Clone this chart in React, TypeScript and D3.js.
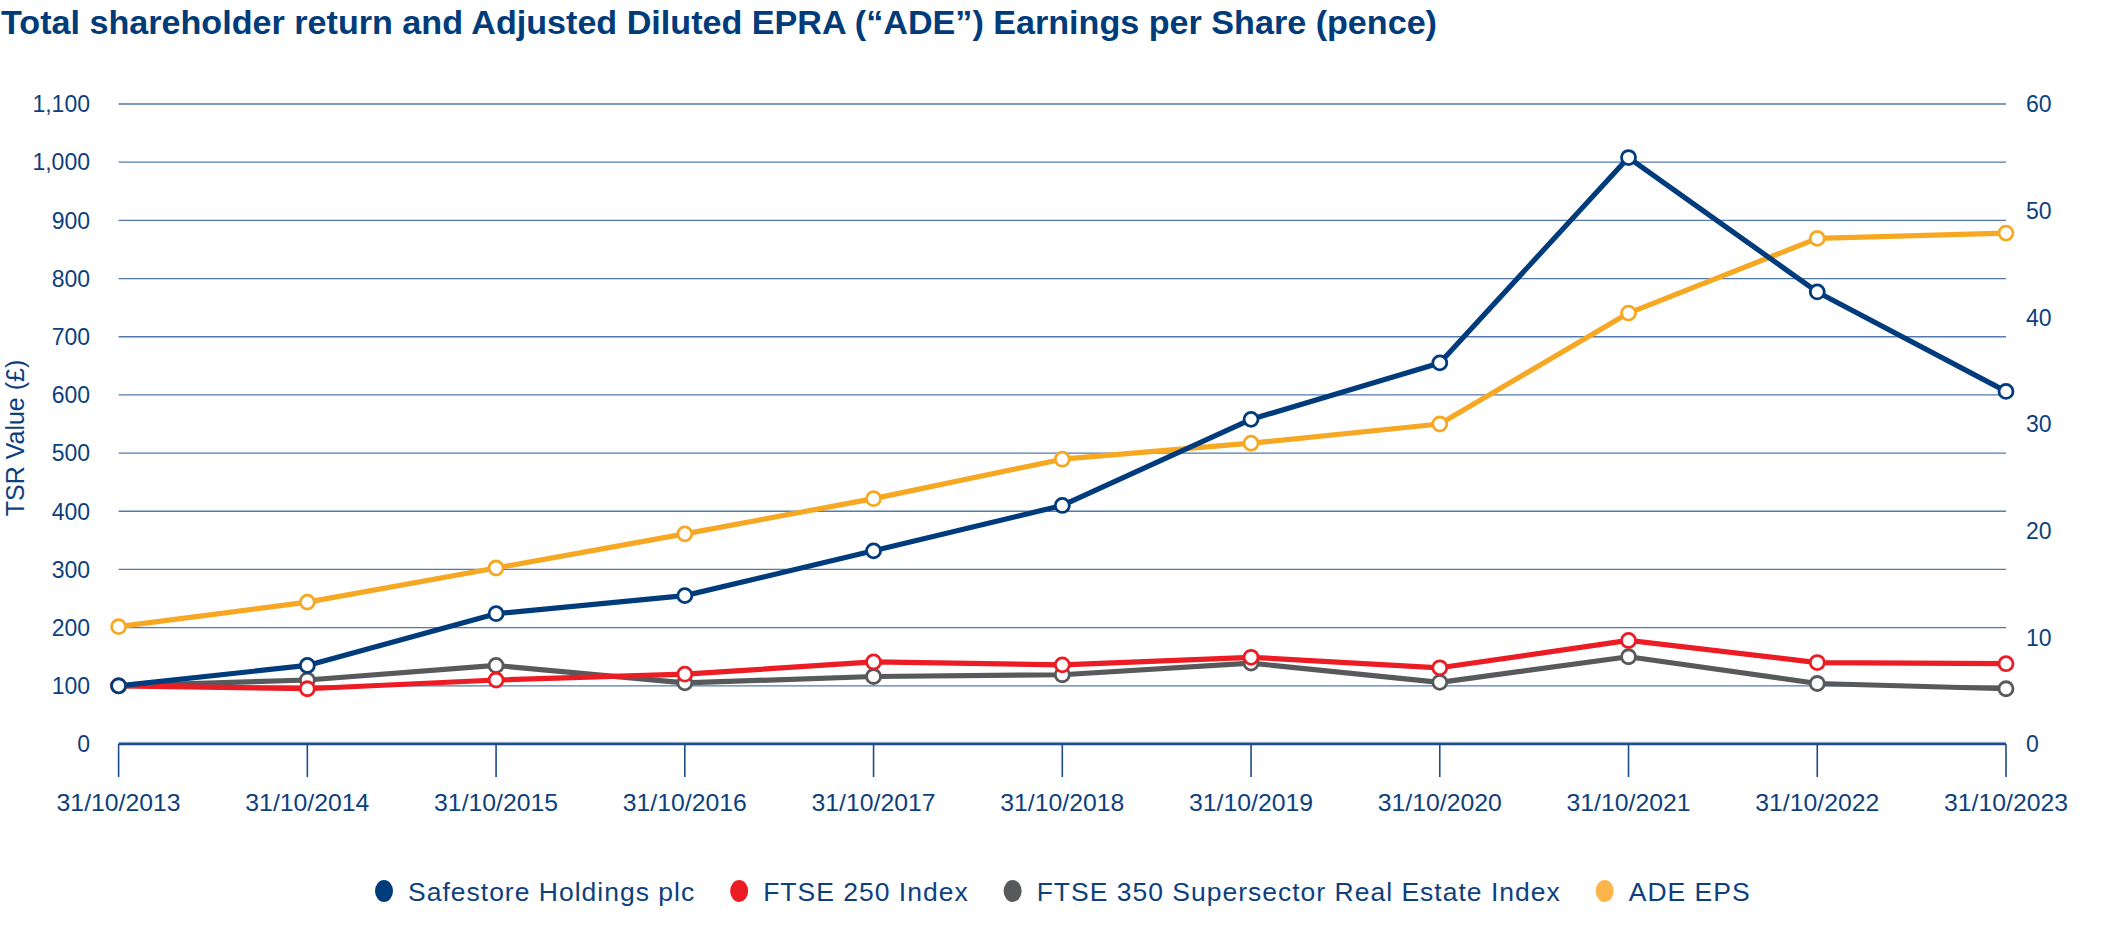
import React, { useEffect, useRef } from "react";
import * as d3 from "d3";

const years = ["31/10/2013","31/10/2014","31/10/2015","31/10/2016","31/10/2017","31/10/2018","31/10/2019","31/10/2020","31/10/2021","31/10/2022","31/10/2023"];
const safestore = [100, 135, 224, 255, 332, 410, 558, 655, 1008, 777, 606];
const ftse250 = [100, 95, 110, 120, 141, 136, 149, 131, 178, 140, 138];
const ftse350re = [100, 110, 135, 105, 116, 119, 139, 106, 150, 104, 95];
const adeEps = [11.0, 13.3, 16.5, 19.7, 23.0, 26.7, 28.2, 30.0, 40.4, 47.4, 47.9];
const leftTicks = [0,100,200,300,400,500,600,700,800,900,1000,1100];
const rightTicks = [0,10,20,30,40,50,60];
const title = "Total shareholder return and Adjusted Diluted EPRA (\u201cADE\u201d) Earnings per Share (pence)";
const leftTitle = "TSR Value (\u00a3)";

const seriesNames = ["Safestore Holdings plc", "FTSE 250 Index", "FTSE 350 Supersector Real Estate Index", "ADE EPS"];
const lineColors = ["#003b7c", "#ec1c24", "#58595b", "#f7a823"];
const legendColors = ["#003b7c", "#ec1c24", "#58595b", "#fdb44b"];

const W = 2114, H = 948;
const FONT = "'Liberation Sans', Arial, Helvetica, sans-serif";
const TEXT = "#0d3f7e";

export default function App() {
  const ref = useRef<SVGSVGElement | null>(null);
  useEffect(() => {
    const svg = d3.select(ref.current);
    svg.selectAll("*").remove();
    const x0 = 118.6, x1 = 2006, yTop = 104, yBot = 744;
    const x = d3.scalePoint<string>().domain(years).range([x0, x1]);
    const yL = d3.scaleLinear().domain([0, 1100]).range([yBot, yTop]);
    const yR = d3.scaleLinear().domain([0, 60]).range([yBot, yTop]);

    svg.append("text").attr("x", 1).attr("y", 34).attr("font-family", FONT)
      .attr("font-weight", "bold").attr("font-size", 34).attr("fill", "#003b7a")
      .attr("textLength", 1436).attr("lengthAdjust", "spacingAndGlyphs").text(title);

    // gridlines
    svg.append("g").selectAll("line").data(leftTicks.filter(d => d > 0)).join("line")
      .attr("x1", x0).attr("x2", x1).attr("y1", d => yL(d)).attr("y2", d => yL(d))
      .attr("stroke", "#527aac").attr("stroke-width", 1.3);

    // left labels
    svg.append("g").selectAll("text").data(leftTicks).join("text")
      .attr("x", 90).attr("y", d => yL(d)).attr("dy", "0.36em").attr("text-anchor", "end")
      .attr("font-family", FONT).attr("font-size", 23).attr("fill", TEXT)
      .text(d => d3.format(",")(d));
    // right labels
    svg.append("g").selectAll("text").data(rightTicks).join("text")
      .attr("x", 2026).attr("y", d => yR(d)).attr("dy", "0.36em").attr("text-anchor", "start")
      .attr("font-family", FONT).attr("font-size", 23).attr("fill", TEXT)
      .text(d => String(d));

    svg.append("text").attr("transform", `translate(24,${(yTop + yBot) / 2 + 14}) rotate(-90)`)
      .attr("text-anchor", "middle").attr("font-family", FONT).attr("font-size", 25)
      .attr("fill", TEXT).text(leftTitle);

    // x axis
    svg.append("line").attr("x1", x0).attr("x2", x1).attr("y1", yBot - 1.5).attr("y2", yBot - 1.5)
      .attr("stroke", "#b5c6dc").attr("stroke-width", 1.5);
    svg.append("line").attr("x1", x0).attr("x2", x1).attr("y1", yBot).attr("y2", yBot)
      .attr("stroke", "#1c4c8a").attr("stroke-width", 2.5);
    svg.append("g").selectAll("line").data(years).join("line")
      .attr("x1", d => x(d)!).attr("x2", d => x(d)!).attr("y1", yBot).attr("y2", yBot + 33)
      .attr("stroke", "#1c4c8a").attr("stroke-width", 1.6);
    svg.append("g").selectAll("text").data(years).join("text")
      .attr("x", d => x(d)!).attr("y", 802).attr("dy", "0.36em").attr("text-anchor", "middle")
      .attr("font-family", FONT).attr("font-size", 24.5).attr("fill", TEXT)
      .attr("textLength", 124).attr("lengthAdjust", "spacingAndGlyphs")
      .text(d => d);

    const all = [
      { vals: safestore, y: yL },
      { vals: ftse250, y: yL },
      { vals: ftse350re, y: yL },
      { vals: adeEps, y: yR },
    ];
    const drawOrder = [3, 2, 1, 0];
    drawOrder.forEach(i => {
      const s = all[i];
      const line = d3.line<number>().x((_, k) => x(years[k])!).y(v => s.y(v));
      svg.append("path").attr("d", line(s.vals)!).attr("fill", "none")
        .attr("stroke", lineColors[i]).attr("stroke-width", 5.2).attr("stroke-linejoin", "round");
    });
    drawOrder.forEach(i => {
      const s = all[i];
      svg.append("g").selectAll("circle").data(s.vals).join("circle")
        .attr("cx", (_, k) => x(years[k])!).attr("cy", v => s.y(v)).attr("r", 7)
        .attr("fill", "#fff").attr("stroke", lineColors[i]).attr("stroke-width", 2.8);
    });

    // legend
    const legendY = 891;
    const fs = 26.5;
    const ls = 1;
    const ctx = document.createElement("canvas").getContext("2d")!;
    ctx.font = `${fs}px ${FONT}`;
    const widths = seriesNames.map(n => ctx.measureText(n).width + ls * n.length);
    const r = 10, gapCT = 14, gapItem = 34;
    const total = widths.reduce((a, w) => a + 2 * r + gapCT + w, 0) + gapItem * (seriesNames.length - 1);
    let cx = (x0 + x1) / 2 - total / 2;
    const lg = svg.append("g");
    seriesNames.forEach((n, i) => {
      lg.append("ellipse").attr("cx", cx + r).attr("cy", legendY).attr("rx", r - 1).attr("ry", r + 1).attr("fill", legendColors[i]);
      lg.append("text").attr("x", cx + 2 * r + gapCT).attr("y", legendY).attr("dy", "0.36em")
        .attr("font-family", FONT).attr("font-size", fs).attr("letter-spacing", ls).attr("fill", TEXT).text(n);
      cx += 2 * r + gapCT + widths[i] + gapItem;
    });
  }, []);
  return (
    <svg ref={ref} width={W} height={H} style={{ position: "absolute", left: 0, top: 0, background: "#fff" }} />
  );
}
